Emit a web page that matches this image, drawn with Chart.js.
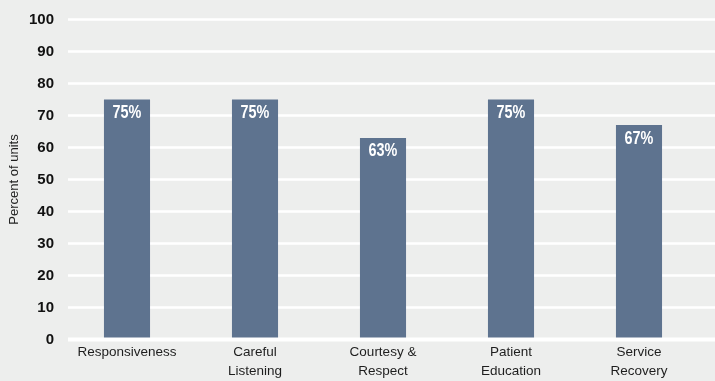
<!DOCTYPE html>
<html>
<head>
<meta charset="utf-8">
<script src="https://cdn.jsdelivr.net/npm/chart.js@4/dist/chart.umd.min.js"></script>
<style>
  html, body { margin: 0; padding: 0; background: #edeeed; }
  #wrap { width: 715px; height: 381px; position: relative; }
</style>
</head>
<body>
<div id="wrap"><canvas id="chart"></canvas></div>
<script>
// Share of units by service-standard category
const categories = [
  ['Responsiveness'],
  ['Careful', 'Listening'],
  ['Courtesy &', 'Respect'],
  ['Patient', 'Education'],
  ['Service', 'Recovery']
];
const percentOfUnits = [75, 75, 63, 75, 67];
const yTicks = [0, 10, 20, 30, 40, 50, 60, 70, 80, 90, 100];

const SANS = "'Liberation Sans', Arial, Helvetica, sans-serif";
const BAR_COLOR = '#5e738f';

// White horizontal rules behind the bars, running to the right edge
const gridRules = {
  id: 'gridRules',
  beforeDatasetsDraw(chart) {
    const y = chart.scales.y, ctx = chart.ctx;
    ctx.save();
    ctx.strokeStyle = '#ffffff';
    ctx.lineWidth = 2.5;
    yTicks.forEach(v => {
      if (v === 0) return;
      const py = y.getPixelForValue(v);
      ctx.beginPath();
      ctx.moveTo(chart.chartArea.left + 5, py);
      ctx.lineTo(chart.width, py);
      ctx.stroke();
    });
    ctx.restore();
  },
  afterDatasetsDraw(chart) {
    const y = chart.scales.y, ctx = chart.ctx;
    const py = y.getPixelForValue(0);
    ctx.save();
    ctx.strokeStyle = '#ffffff';
    ctx.lineWidth = 4;
    ctx.beginPath();
    ctx.moveTo(chart.chartArea.left + 5, py);
    ctx.lineTo(chart.width, py);
    ctx.stroke();
    ctx.restore();
  }
};

// Percentage printed inside the top of each bar, in a condensed bold face
const barValues = {
  id: 'barValues',
  afterDatasetsDraw(chart) {
    const ctx = chart.ctx;
    const meta = chart.getDatasetMeta(0);
    ctx.save();
    ctx.fillStyle = '#ffffff';
    ctx.font = 'bold 18px ' + SANS;
    ctx.textAlign = 'center';
    ctx.textBaseline = 'alphabetic';
    meta.data.forEach((bar, i) => {
      ctx.save();
      ctx.translate(bar.x, bar.y + 18.5);
      ctx.scale(0.8, 1);
      ctx.fillText(percentOfUnits[i] + '%', 0, 0);
      ctx.restore();
    });
    ctx.restore();
  }
};

new Chart(document.getElementById('chart'), {
  type: 'bar',
  data: {
    labels: categories,
    datasets: [{
      data: percentOfUnits,
      backgroundColor: BAR_COLOR,
      borderWidth: 0,
      categoryPercentage: 1,
      barPercentage: 0.36
    }]
  },
  options: {
    responsive: true,
    maintainAspectRatio: false,
    animation: false,
    layout: { padding: { top: 19.5, right: 12, bottom: 0, left: 0 } },
    plugins: {
      legend: { display: false },
      tooltip: { enabled: false }
    },
    scales: {
      x: {
        grid: { display: false },
        border: { display: false },
        ticks: {
          color: '#1e1e1e',
          font: { family: SANS, size: 13.5, lineHeight: 1.4 },
          padding: -5,
          maxRotation: 0,
          autoSkip: false
        },
        afterFit(scale) { scale.height = 41.5; }
      },
      y: {
        min: 0,
        max: 100,
        afterBuildTicks(scale) { scale.ticks = yTicks.map(v => ({ value: v })); },
        grid: { display: false },
        border: { display: false },
        ticks: {
          color: '#111111',
          font: { family: SANS, size: 15, weight: 'bold' },
          padding: 1
        },
        title: {
          display: true,
          text: 'Percent of units',
          color: '#1e1e1e',
          font: { family: SANS, size: 13 },
          padding: { top: 7, bottom: 0 }
        },
        afterFit(scale) { scale.width = 63; }
      }
    }
  },
  plugins: [gridRules, barValues]
});
</script>
</body>
</html>
